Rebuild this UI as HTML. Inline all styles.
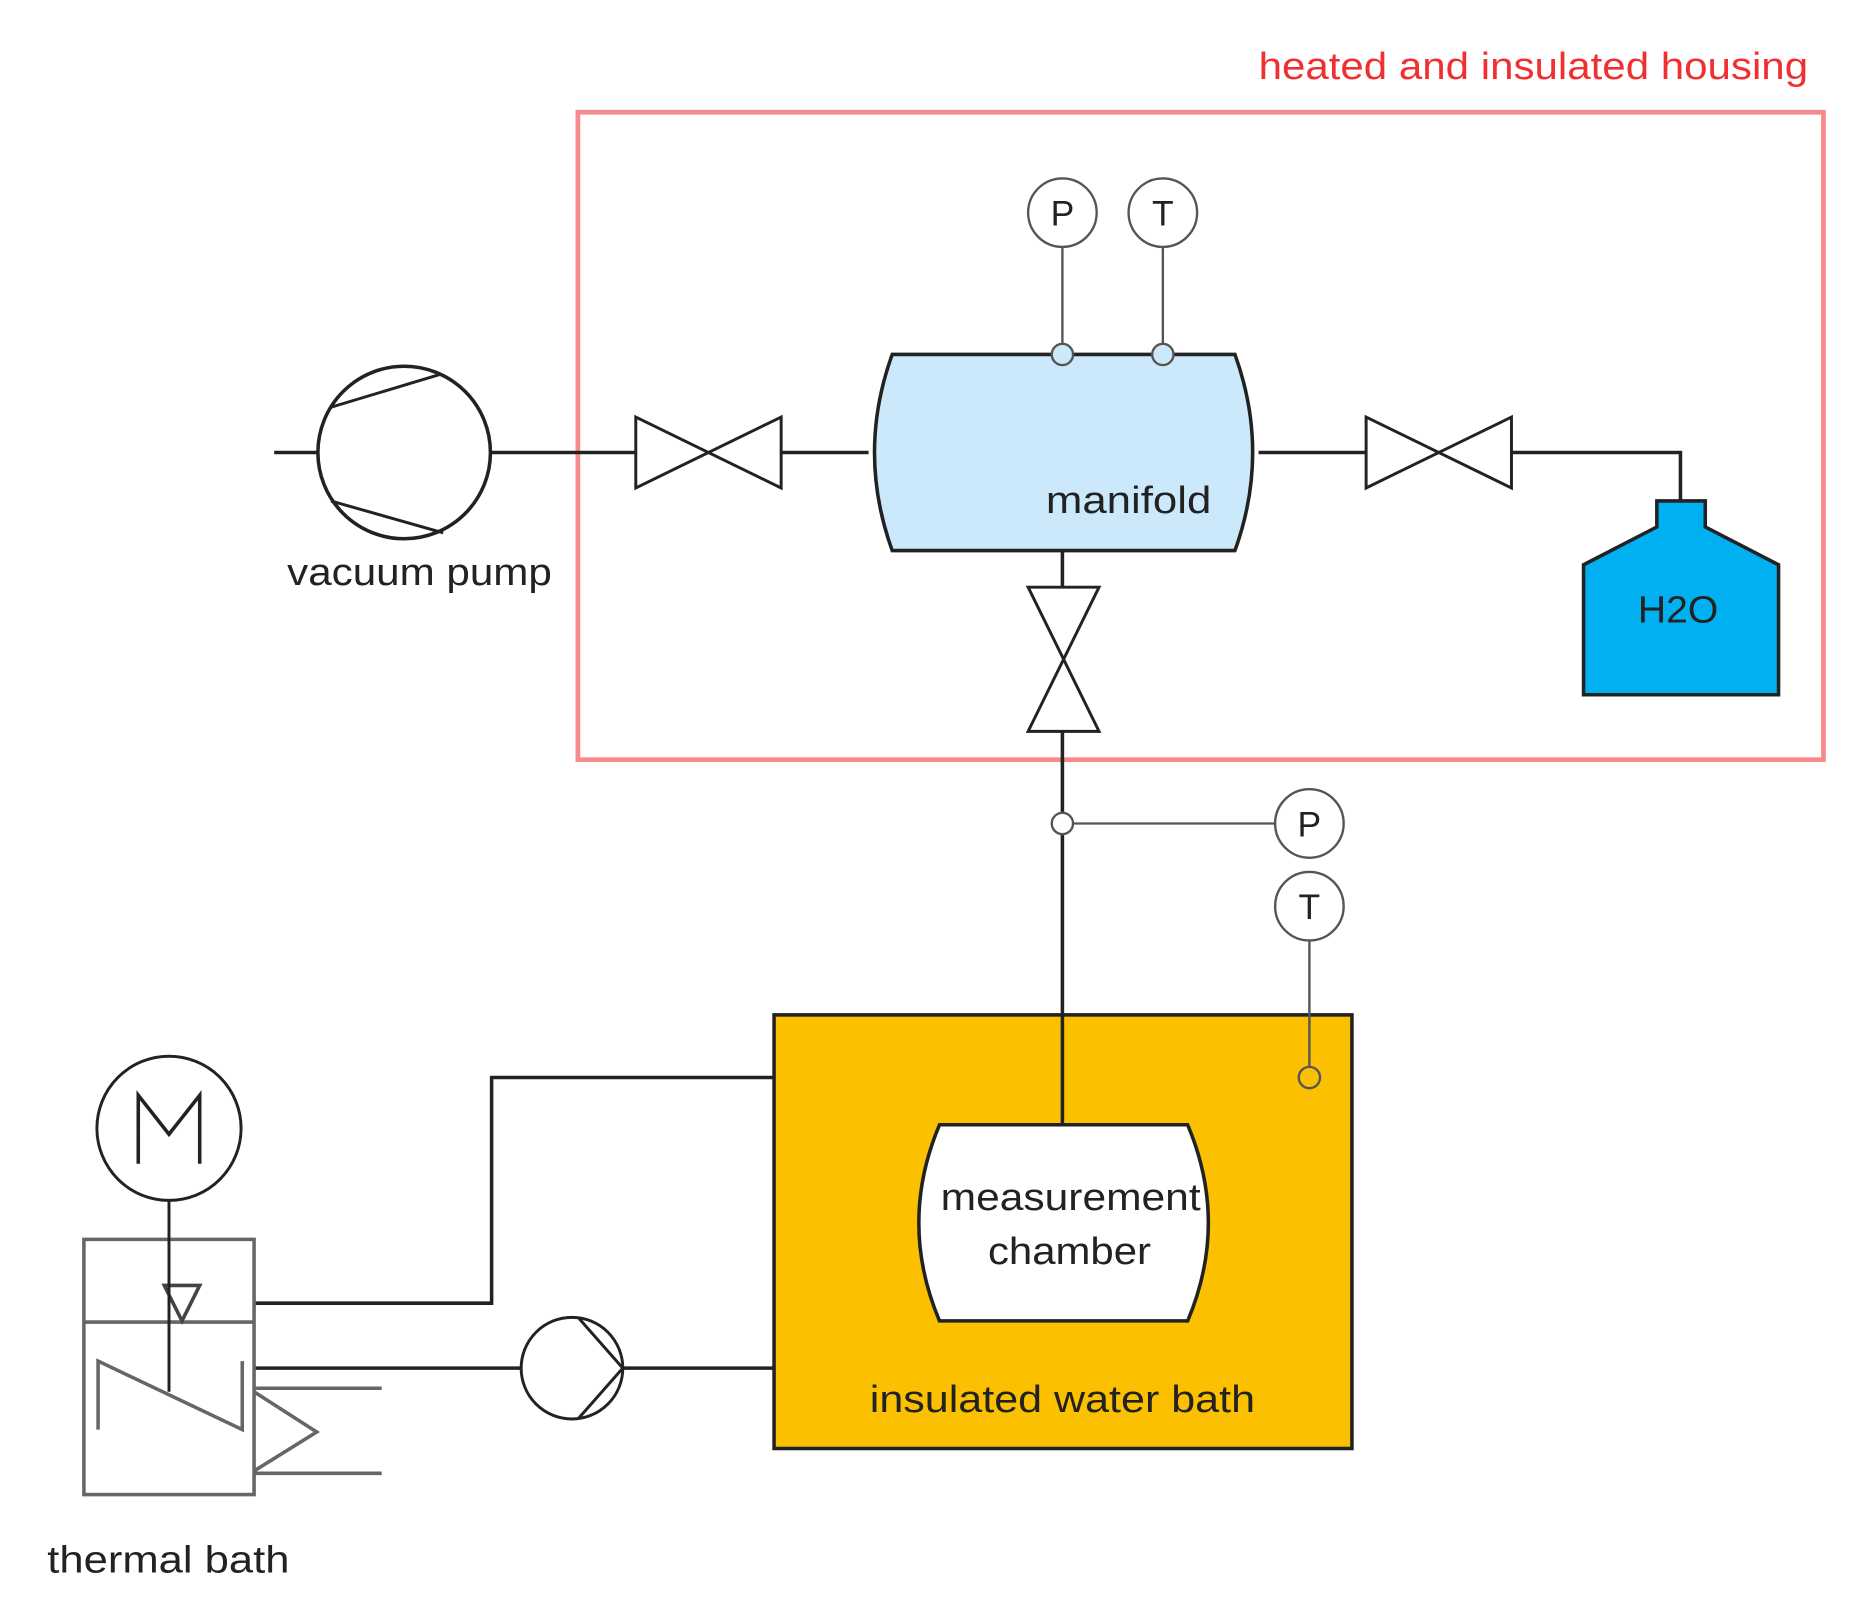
<!DOCTYPE html>
<html><head><meta charset="utf-8"><style>html,body{margin:0;padding:0;background:#fff}svg{display:block}</style></head>
<body>
<svg width="1853" height="1608" viewBox="0 0 1568 1361" preserveAspectRatio="none" xmlns="http://www.w3.org/2000/svg" font-family="Liberation Sans, sans-serif">
<g fill="none" stroke="#222" stroke-width="3">
<rect x="489" y="95" width="1054" height="548" stroke="#f78a8a" stroke-width="4"/>
<line x1="232" y1="383" x2="269" y2="383"/>
<circle cx="342" cy="383" r="73" fill="#fff"/>
<line x1="279" y1="345" x2="372" y2="317" stroke-width="2.5"/>
<line x1="280" y1="424" x2="375" y2="451" stroke-width="2.5"/>
<line x1="415" y1="383" x2="538" y2="383"/>
<polygon points="538,353 661,413 661,353 538,413" stroke-width="2.5"/>
<line x1="661" y1="383" x2="735" y2="383"/>
<path d="M755,300 L1045,300 Q1075,383 1045,466 L755,466 Q725,383 755,300 Z" fill="#cce9fb"/>
<line x1="1065" y1="383" x2="1156" y2="383"/>
<polygon points="1156,353 1279,413 1279,353 1156,413" stroke-width="2.5"/>
<polyline points="1279,383 1422,383 1422,424"/>
<path d="M1402,424 L1443,424 L1443,446 L1505,478 L1505,588 L1340,588 L1340,478 L1402,446 Z" fill="#00b0f0"/>
<g stroke="#555" stroke-width="2">
<line x1="899" y1="209" x2="899" y2="291"/>
<line x1="984" y1="209" x2="984" y2="291"/>
<circle cx="899" cy="180" r="29" fill="#fff"/>
<circle cx="984" cy="180" r="29" fill="#fff"/>
<circle cx="899" cy="300" r="9" fill="#cce9fb"/>
<circle cx="984" cy="300" r="9" fill="#cce9fb"/>
</g>
<line x1="899" y1="466" x2="899" y2="497"/>
<polygon points="870,497 930,619 870,619 930,497" stroke-width="2.5"/>
<rect x="655" y="859" width="489" height="367" fill="#fbc000"/>
<line x1="899" y1="619" x2="899" y2="952"/>
<path d="M795,952 L1005,952 Q1040,1035 1005,1118 L795,1118 Q760,1035 795,952 Z" fill="#fff"/>
<g stroke="#555" stroke-width="2">
<line x1="908" y1="697" x2="1079" y2="697"/>
<circle cx="899" cy="697" r="9" fill="#fff"/>
<circle cx="1108" cy="697" r="29" fill="#fff"/>
<circle cx="1108" cy="767" r="29" fill="#fff"/>
<line x1="1108" y1="796" x2="1108" y2="903"/>
<circle cx="1108" cy="912" r="9" fill="#fbc000"/>
</g>
<polyline points="655,912 416,912 416,1103 215,1103"/>
<line x1="215" y1="1158" x2="441" y2="1158"/>
<line x1="527" y1="1158" x2="655" y2="1158"/>
<circle cx="484" cy="1158" r="43" fill="#fff" stroke-width="2.5"/>
<polyline points="490,1116 527,1158 490,1200" stroke-width="2.5"/>
<circle cx="143" cy="955" r="61" fill="#fff" stroke-width="2.5"/>
<polyline points="117,985 117,927 143,960 169,927 169,985" stroke-width="3"/>
<g stroke="#666" stroke-width="3">
<rect x="71" y="1049" width="144" height="216"/>
<line x1="71" y1="1119" x2="215" y2="1119"/>
<polyline points="83,1210 83,1152 205,1210 205,1152"/>
<polyline points="215,1178 268,1212 215,1245"/>
<line x1="215" y1="1175" x2="323" y2="1175"/>
<line x1="215" y1="1247" x2="323" y2="1247"/>
<polygon points="139,1088 169,1088 154,1118" stroke="#444"/>
</g>
<line x1="143" y1="1016" x2="143" y2="1178" stroke-width="2.5"/>
</g>
<g font-size="32" fill="#222">
<text x="1065" y="67" textLength="465" lengthAdjust="spacingAndGlyphs" fill="#f03030">heated and insulated housing</text>
<text x="885" y="434" textLength="140" lengthAdjust="spacingAndGlyphs">manifold</text>
<text x="243" y="495" textLength="224" lengthAdjust="spacingAndGlyphs">vacuum pump</text>
<text x="1386" y="527" textLength="68" lengthAdjust="spacingAndGlyphs">H2O</text>
<text x="899" y="191" text-anchor="middle" font-size="30">P</text>
<text x="984" y="191" text-anchor="middle" font-size="30">T</text>
<text x="1108" y="708" text-anchor="middle" font-size="30">P</text>
<text x="1108" y="778" text-anchor="middle" font-size="30">T</text>
<text x="796" y="1024" textLength="220" lengthAdjust="spacingAndGlyphs">measurement</text>
<text x="836" y="1070" textLength="138" lengthAdjust="spacingAndGlyphs">chamber</text>
<text x="736" y="1195" textLength="326" lengthAdjust="spacingAndGlyphs">insulated water bath</text>
<text x="40" y="1331" textLength="205" lengthAdjust="spacingAndGlyphs">thermal bath</text>
</g>
</svg>
</body></html>
